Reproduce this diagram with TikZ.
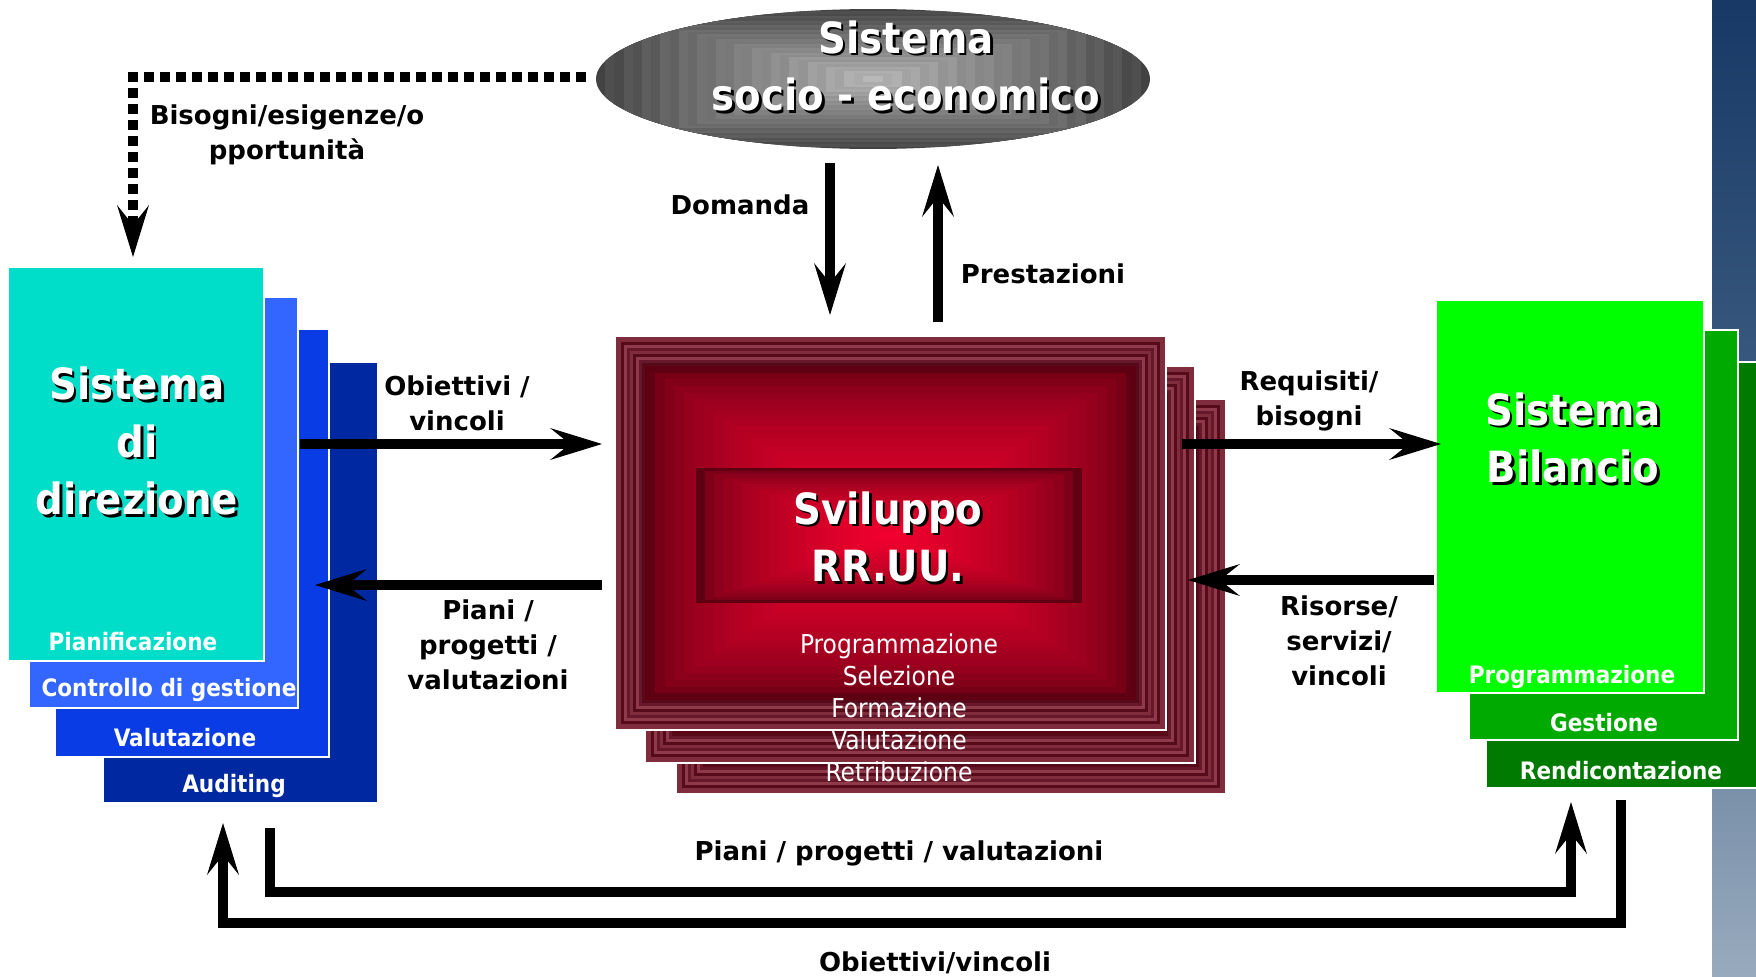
\documentclass[tikz,border=0pt]{standalone}
\usepackage{fontspec}
\setmainfont{DejaVu Sans}
\newfontfamily\cndfont{DejaVu Sans Condensed}
\usetikzlibrary{arrows.meta}

% Colours of the three stacks
\definecolor{tealbox}{HTML}{00DDC8}
\definecolor{blueA}{HTML}{3366FF}
\definecolor{blueB}{HTML}{0A3CE6}
\definecolor{blueC}{HTML}{0028A0}
\definecolor{greenA}{HTML}{00FF00}
\definecolor{greenB}{HTML}{00AA00}
\definecolor{greenC}{HTML}{007A00}
\definecolor{redhi}{HTML}{F2002E}
\definecolor{reddk}{HTML}{5E0012}
\definecolor{frameA}{HTML}{7F2D3D}
\definecolor{frameB}{HTML}{66182A}
\definecolor{frameC}{HTML}{8E3A4B}
\definecolor{frameD}{HTML}{560A1A}
\definecolor{bandA}{HTML}{062858}
\definecolor{bandB}{HTML}{3A5A80}
\definecolor{bandC}{HTML}{A8B8C8}
\definecolor{bandD}{HTML}{DAE0E7}

\pgfdeclareverticalshading{bandshade}{100bp}{color(0bp)=(bandD); color(20bp)=(bandC); color(55bp)=(bandB); color(85bp)=(bandA); color(100bp)=(bandA)}

% Red bevelled panel: x1, y1, x2, y2
\newcommand{\redpanel}[4]{%
  \foreach \i/\col in {0/frameA,1/frameA,2/frameD,3/frameC,4/frameB,5/frameA,6/frameD,7/frameC,8/frameB,9/frameD}{
    \fill[\col] ({#1+3*\i},{#2+3*\i}) rectangle ({#3-3*\i},{#4-3*\i});
  }
  \foreach \j in {0,...,24}{
    \pgfmathtruncatemacro\mix{100*(\j/24)^0.55}
    \fill[redhi!\mix!reddk] ({#1+30+\j*((#3-#1)/2-30)/25},{#2+30+\j*((#4-#2)/2-30)/25}) rectangle ({#3-30-\j*((#3-#1)/2-30)/25},{#4-30-\j*((#4-#2)/2-30)/25});
  }
  \draw[white, line width=2.5pt] (#1,#2) rectangle (#3,#4);
}

\tikzset{
  flow/.style={line width=10pt, line join=miter, -{Stealth[length=52pt, width=32pt, inset=20pt, line width=0pt]}},
  dots/.style={flow, dash pattern=on 10pt off 6pt},
  stack/.style={draw=white, line width=2.5pt},
  lbl/.style={font=\bfseries\fontsize{26}{35}\selectfont, align=center, inner sep=0pt},
  boxlbl/.style={text=white, font=\cndfont\bfseries\fontsize{24}{28}\selectfont, inner sep=0pt},
  sublbl/.style={text=white, font=\cndfont\fontsize{26}{32}\selectfont, align=center, inner sep=0pt},
  ttl/.style={text=white, font=\cndfont\bfseries\fontsize{43}{57.5}\selectfont, align=center, inner sep=0pt},
  ttlshadow/.style={ttl, text=black}
}

\begin{document}
\begin{tikzpicture}[x=1pt, y=-1pt]

\useasboundingbox (0,0) rectangle (1756,977);

% Band on the right edge
\shade[shading=bandshade] (1712,0) rectangle (1756,977);

% Ellipse of the socio-economic system
\begin{scope}
\clip (873,79) ellipse [x radius=277, y radius=70];
\foreach \k in {0,...,29}{
  \pgfmathtruncatemacro\g{74-\k*1.45-3*mod(\k,2)}
  \fill[black!\g] ({596+\k*9.2},{9+\k*2.3}) rectangle ({1150-\k*9.2},{149-\k*2.3});
}
\end{scope}
\node[ttlshadow] (soc-sh) at (908.5,68.5) {Sistema\\socio - economico};
\node[ttl] (soc) at (906,66) {Sistema\\socio - economico};

% Left stack (sistema di direzione)
\filldraw[fill=blueC, stack] (103,362) rectangle (378,803);
\filldraw[fill=blueB, stack] (55,329) rectangle (329,757);
\filldraw[fill=blueA, stack] (29,297) rectangle (298,708);
\filldraw[fill=tealbox, stack] (8,267) rectangle (264,661);

\node[ttlshadow] (dir-sh) at (139.5,443.5) {Sistema\\di\\direzione};
\node[ttl] (dir) at (137,441) {Sistema\\di\\direzione};
\node[boxlbl] (pia) at (133,642) {Pianificazione};
\node[boxlbl] (cdg) at (169,690) {Controllo di gestione};
\node[boxlbl] (val) at (185,738) {Valutazione};
\node[boxlbl] (aud) at (234,786) {Auditing};

% Right stack (sistema bilancio)
\filldraw[fill=greenC, stack] (1486,362) rectangle (1770,788);
\filldraw[fill=greenB, stack] (1469,330) rectangle (1738,740);
\filldraw[fill=greenA, stack] (1436,300) rectangle (1704,693);

\node[ttlshadow] (bil-sh) at (1575.5,440.5) {Sistema\\Bilancio};
\node[ttl] (bil) at (1573,438) {Sistema\\Bilancio};
\node[boxlbl] (prg) at (1572,677) {Programmazione};
\node[boxlbl] (ges) at (1604,723) {Gestione};
\node[boxlbl] (ren) at (1621,771) {Rendicontazione};

% Centre stack (sviluppo RR.UU.)
\redpanel{676}{399}{1226}{794}
\redpanel{645}{366}{1195}{763}
\redpanel{615}{336}{1166}{730}

% Inner box
\foreach \j in {0,...,20}{
  \pgfmathtruncatemacro\mix{100*(\j/20)^0.5}
  \fill[redhi!\mix!reddk] ({696+\j*9.2},{468+\j*3.2}) rectangle ({1082-\j*9.2},{603-\j*3.2});
}
\node[ttlshadow] (svi-sh) at (890.5,539.5) {Sviluppo\\RR.UU.};
\node[ttl] (svi) at (888,537) {Sviluppo\\RR.UU.};
\node[sublbl] (fasi) at (899,708) {Programmazione\\Selezione\\Formazione\\Valutazione\\Retribuzione};

% Connector ends
\coordinate (bis-s) at (586,77);
\coordinate (bis-e) at (133,257);
\coordinate (dom-s) at (830,163);
\coordinate (dom-e) at (830,315);
\coordinate (pre-s) at (938,322);
\coordinate (pre-e) at (938,165);
\coordinate (obv-s) at (300,444);
\coordinate (obv-e) at (602,444);
\coordinate (ppv-s) at (602,585);
\coordinate (ppv-e) at (315,585);
\coordinate (req-s) at (1182,444);
\coordinate (req-e) at (1441,444);
\coordinate (ris-s) at (1434,580);
\coordinate (ris-e) at (1188,580);
\coordinate (pb-s) at (270,828);
\coordinate (pb-b) at (1571,892);
\coordinate (pb-e) at (1571,802);
\coordinate (ob-s) at (1621,800);
\coordinate (ob-b) at (223,923);
\coordinate (ob-e) at (223,823);

% Connectors
\draw[dots] (bis-s) -| (bis-e);
\draw[flow] (dom-s) -- (dom-e);
\draw[flow] (pre-s) -- (pre-e);
\draw[flow] (obv-s) -- (obv-e);
\draw[flow] (ppv-s) -- (ppv-e);
\draw[flow] (req-s) -- (req-e);
\draw[flow] (ris-s) -- (ris-e);
\draw[flow] (pb-s) |- (pb-b) -- (pb-e);
\draw[flow] (ob-s) |- (ob-b) -- (ob-e);

% Labels
\node[lbl] (bis) at (287,135) {Bisogni/esigenze/o\\pportunità};
\node[lbl] (dom) at (740,205) {Domanda};
\node[lbl] (pre) at (1043,274) {Prestazioni};
\node[lbl] (obv) at (457,403) {Obiettivi /\\vincoli};
\node[lbl] (ppv) at (488,645) {Piani /\\progetti /\\valutazioni};
\node[lbl] (req) at (1309,401) {Requisiti/\\bisogni};
\node[lbl] (ris) at (1339,641) {Risorse/\\servizi/\\vincoli};
\node[lbl] (pb) at (899,853) {Piani / progetti / valutazioni};
\node[lbl] (ob) at (935,963) {Obiettivi/vincoli};

\end{tikzpicture}
\end{document}
